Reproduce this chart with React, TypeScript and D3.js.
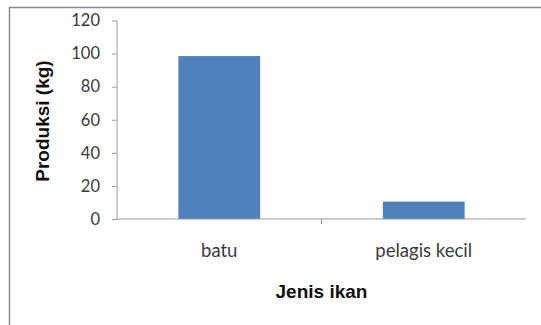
import { useEffect, useRef } from "react";
import * as d3 from "d3";

// data
const categories = ["batu", "pelagis kecil"];
const produksi = [98.5, 10.5];
const yTicks = [0, 20, 40, 60, 80, 100, 120];

const WIDTH = 541;
const HEIGHT = 325;

export default function App() {
  const svgRef = useRef<SVGSVGElement>(null);

  useEffect(() => {
    if (!svgRef.current) return;
    const svg = d3.select(svgRef.current);
    svg.selectAll("*").remove();

    const margin = { left: 117, right: 15, top: 20.5, bottom: 106 };
    const innerW = WIDTH - margin.left - margin.right;
    const innerH = HEIGHT - margin.top - margin.bottom;

    // chart frame (only top and left edges are visible in the picture)
    svg.append("rect")
      .attr("x", 9.5)
      .attr("y", 7.5)
      .attr("width", WIDTH + 20)
      .attr("height", HEIGHT + 20)
      .attr("fill", "#ffffff")
      .attr("stroke", "#8a8a8a")
      .attr("stroke-width", 1.5);

    const g = svg.append("g").attr("transform", `translate(${margin.left},${margin.top})`);

    const x = d3.scaleBand<string>()
      .domain(categories)
      .range([0, innerW])
      .paddingInner(0.6)
      .paddingOuter(0.3);

    const y = d3.scaleLinear().domain([0, 120]).range([innerH, 0]);

    // bars
    g.selectAll("rect.bar")
      .data(categories)
      .join("rect")
      .attr("class", "bar")
      .attr("x", (d) => x(d)!)
      .attr("y", (_d, i) => y(produksi[i]))
      .attr("width", x.bandwidth())
      .attr("height", (_d, i) => innerH - y(produksi[i]))
      .attr("fill", "#4f81bd");

    // y axis
    g.append("g")
      .call(d3.axisLeft(y).tickValues(yTicks).tickSize(5).tickPadding(12))
      .call((a) => {
        a.select(".domain").attr("stroke", "#9a9a9a").attr("d", `M0,0V${innerH}`);
        a.selectAll(".tick line").attr("stroke", "#9a9a9a");
        a.selectAll(".tick text")
          .attr("fill", "#3a3a3a")
          .attr("font-family", "Lato, sans-serif")
          .attr("font-size", "16.5px");
      });

    // x axis: line with a tick between categories
    const xa = g.append("g").attr("transform", `translate(0,${innerH})`);
    xa.append("line")
      .attr("x1", 0)
      .attr("x2", innerW)
      .attr("stroke", "#9a9a9a")
      .attr("stroke-width", 1.2);
    const step = x.step();
    xa.append("line")
      .attr("x1", x(categories[1])! - (step - x.bandwidth()) / 2)
      .attr("x2", x(categories[1])! - (step - x.bandwidth()) / 2)
      .attr("y1", 0)
      .attr("y2", 5)
      .attr("stroke", "#9a9a9a");

    xa.selectAll("text.cat")
      .data(categories)
      .join("text")
      .attr("class", "cat")
      .attr("x", (d) => x(d)! + x.bandwidth() / 2)
      .attr("y", 37.5)
      .attr("text-anchor", "middle")
      .attr("fill", "#3a3a3a")
      .attr("font-family", "Lato, sans-serif")
      .attr("font-size", "18.5px")
      .text((d) => d);

    // axis titles
    svg.append("text")
      .attr("x", margin.left + innerW / 2)
      .attr("y", 298)
      .attr("text-anchor", "middle")
      .attr("fill", "#111111")
      .attr("font-family", "'Liberation Sans', Arial, sans-serif")
      .attr("font-weight", "bold")
      .attr("font-size", "19px")
      .text("Jenis ikan");

    svg.append("text")
      .attr("transform", `translate(49,121) rotate(-90)`)
      .attr("text-anchor", "middle")
      .attr("fill", "#111111")
      .attr("font-family", "'Liberation Sans', Arial, sans-serif")
      .attr("font-weight", "bold")
      .attr("font-size", "19px")
      .text("Produksi (kg)");
  }, []);

  return (
    <div style={{ position: "absolute", left: 0, top: 0 }}>
      <svg ref={svgRef} width={WIDTH} height={HEIGHT} style={{ display: "block" }} />
    </div>
  );
}
